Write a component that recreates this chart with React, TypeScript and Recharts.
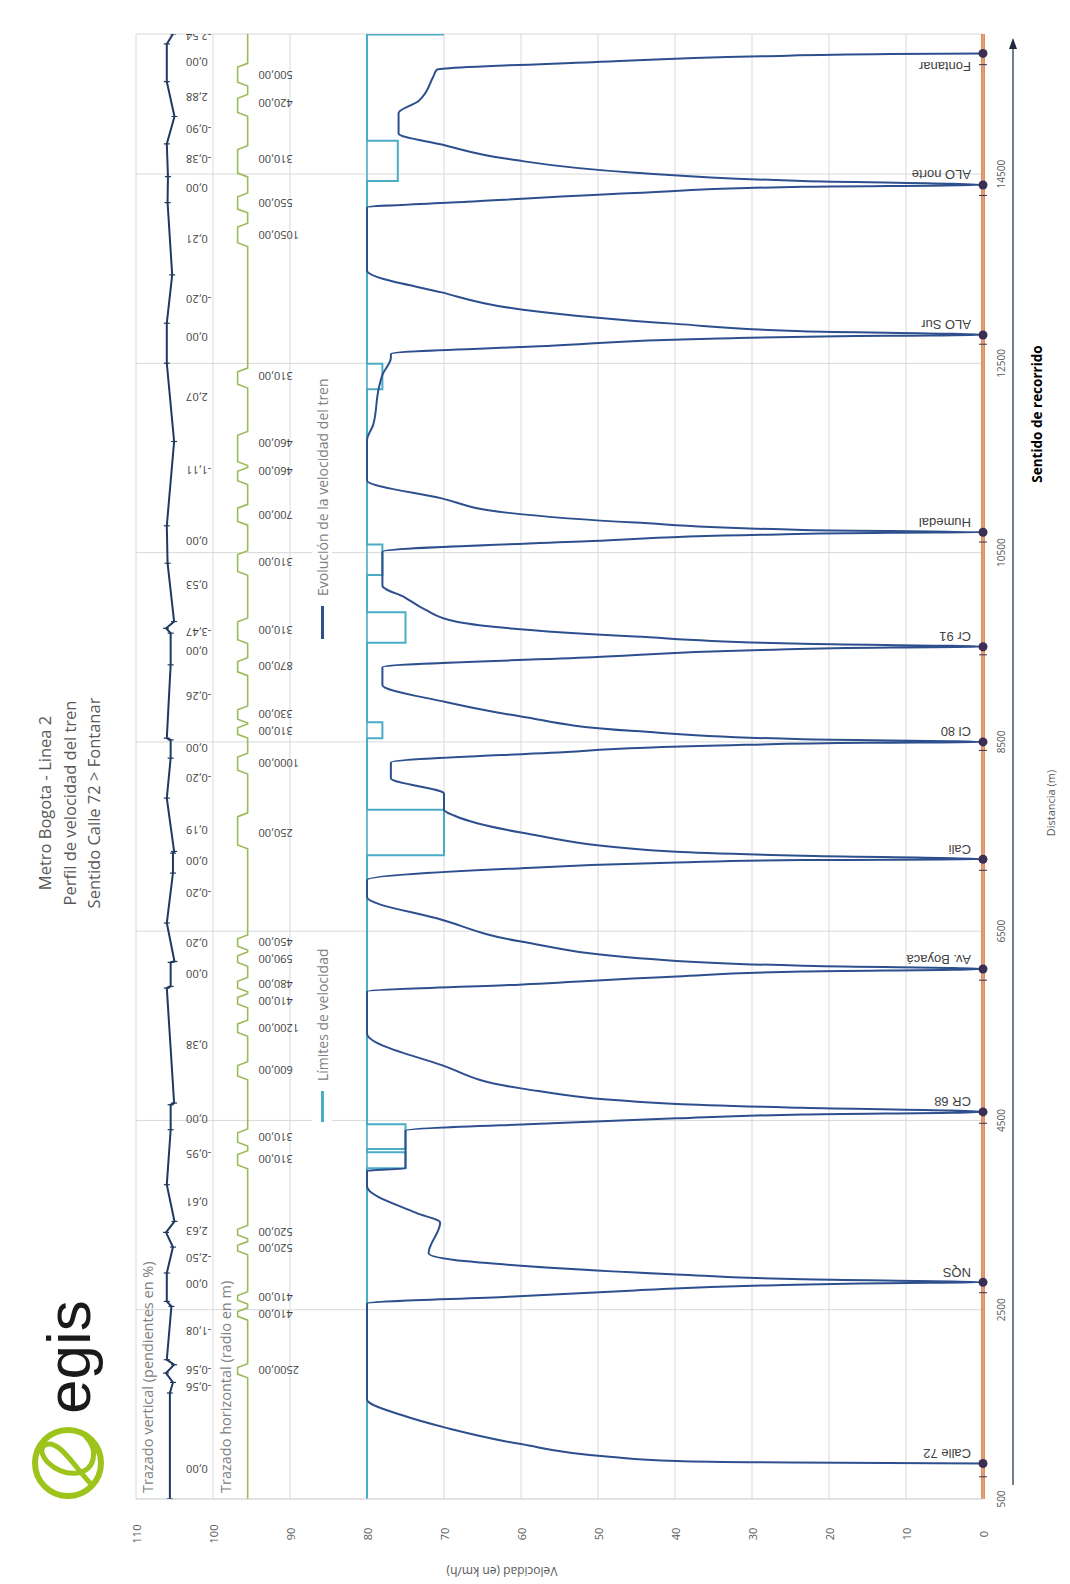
import React from "react";
import {
  ComposedChart,
  Line,
  Scatter,
  XAxis,
  YAxis,
  CartesianGrid,
  Legend,
} from "recharts";

// The chart is drawn in landscape and the whole block is turned a quarter turn
const W = 1584;
const H = 1070;
const FONT = "'Open Sans', 'Noto Sans', sans-serif";

const SPEED_COLOR = "#2D4F8E";
const LIMIT_COLOR = "#4BACC6";
const GRADE_COLOR = "#1F3A60";
const RADIUS_COLOR = "#9BBB59";
const TRACK_COLOR = "#E2661A";
const STATION_COLOR = "#3B3054";
const GRID = "#D9D9D9";

const DIST_TICKS = [500, 2500, 4500, 6500, 8500, 10500, 12500, 14500];
const SPEED_TICKS = [0, 10, 20, 30, 40, 50, 60, 70, 80, 90, 100, 110];
const DIST_MAX = 15980;
const LINE_SPEED = 80;

const STATIONS = [
  "Calle 72", "NQS", "CR 68", "Av. Boyacá", "Cali", "Cl 80",
  "Cr 91", "Humedal", "ALO Sur", "ALO norte", "Fontanar",
];
const STATION_DIST = [875, 2790, 4590, 6100, 7260, 8500, 9505, 10715, 12800, 14385, 15775];
const STATION_MARKS = [735, 2680, 4470, 5982, 7143, 8410, 9420, 10612, 12702, 14274, 15656];

// distance (m), speed (km/h)
const SPEED_PROFILE = [
  [875, 0], [885, 25], [901, 39.8], [947, 48.5], [1080, 60], [1254, 69.8], [1387, 75.5], [1551, 80],
  [2565, 80], [2637, 61.6], [2704, 45.2], [2755, 28.8], [2780, 12.5], [2790, 0],
  [2821, 23.4], [2873, 39.8], [2965, 60], [3011, 67], [3098, 72], [3420, 70.5], [3523, 73.6], [3805, 80],
  [3968, 80], [3994, 75], [4393, 75], [4470, 56], [4522, 39.8], [4563, 23.4], [4590, 0],
  [4634, 23.4], [4675, 39.8], [4839, 60], [5085, 70.3], [5418, 80],
  [5863, 80], [5930, 61.6], [6022, 39.8], [6073, 23.4], [6100, 0],
  [6135, 23.4], [6186, 39.8], [6391, 60], [6621, 70.3], [6860, 80],
  [7041, 80], [7159, 61.6], [7225, 39.8], [7252, 23.4], [7260, 0],
  [7297, 23.4], [7338, 39.8], [7543, 60], [7722, 68.7], [7784, 70], [7953, 70], [8116, 76.9],
  [8282, 76.9], [8385, 56.1], [8462, 34.3], [8490, 15], [8500, 0],
  [8528, 23.4], [8615, 45.2], [8769, 60], [8922, 69.8], [9102, 78],
  [9290, 78], [9394, 50.7], [9470, 28.8], [9498, 12], [9505, 0],
  [9537, 23.4], [9614, 45.2], [9767, 68.2], [9900, 72.5], [10023, 75], [10152, 78],
  [10510, 78], [10623, 50.7], [10689, 28.8], [10710, 12], [10715, 0],
  [10740, 23.4], [10817, 45.2], [10920, 61.6], [11073, 70.3], [11263, 80],
  [11688, 80], [11850, 79.2], [12225, 78.5], [12379, 78], [12558, 76.9], [12600, 76.9],
  [12686, 56.1], [12763, 34.3], [12792, 12], [12800, 0],
  [12840, 23.4], [12917, 39.8], [13070, 60], [13250, 70.3], [13480, 80],
  [14146, 80], [14207, 67], [14299, 45.2], [14366, 23.4], [14385, 0],
  [14428, 23.4], [14515, 45.2], [14658, 61.6], [14812, 70.3], [14929, 75.9],
  [15144, 75.9], [15272, 73.3], [15528, 71.4], [15605, 70.9], [15615, 69.8],
  [15682, 50.7], [15744, 28.8], [15768, 12], [15775, 0],
];

const SPEED_LIMIT = [
  [500, 80], [3994, 80], [3994, 75], [4163, 75], [4163, 80], [4199, 80], [4199, 75], [4460, 75], [4460, 80],
  [7302, 80], [7302, 70], [7784, 70], [7784, 80],
  [8538, 80], [8538, 78], [8707, 78], [8707, 80],
  [9547, 80], [9547, 75], [9870, 75], [9870, 80],
  [10264, 80], [10264, 78], [10587, 78], [10587, 80],
  [12225, 80], [12225, 78], [12497, 78], [12497, 80],
  [14428, 80], [14428, 76], [14853, 76], [14853, 80],
  [15975, 80], [15975, 70],
];

// vertical alignment drawn as a stylised profile near the top of the chart
const GRADE_PROFILE = [
  [500, 105.6], [1620, 105.6], [1732, 105.2], [1831, 106.1], [1919, 105.05], [1972, 106.0],
  [2535, 105.4], [2588, 106.0], [2888, 106.0], [3162, 105.2], [3317, 106.1], [3433, 105.0],
  [3821, 106.0], [4402, 105.5], [4666, 105.5], [4684, 105.05], [5899, 106.0], [5916, 105.5],
  [6170, 105.5], [6180, 105.0], [6586, 106.0], [7114, 105.2], [7325, 105.2], [7343, 105.05],
  [7906, 106.0], [8328, 105.5], [8521, 105.5], [8539, 106.0], [9314, 105.5], [9649, 105.5],
  [9701, 106.1], [9772, 105.05], [10388, 105.9], [10783, 106.0], [11674, 105.05], [12501, 106.0],
  [12924, 106.0], [13435, 105.3], [14199, 105.9], [14474, 105.85], [14819, 106.0], [15108, 105.0],
  [15477, 106.0], [15875, 106.0], [15980, 105.2],
];
const GRADE_LABELS: [number, string][] = [
  [808, "0,00"], [1683, "-0,56"], [1854, "-0,56"], [2271, "-1,08"], [2762, "0,00"], [3039, "-2,50"],
  [3327, "2,63"], [3637, "0,61"], [4139, "-0,95"], [4513, "0,00"], [5292, "0,38"], [6039, "0,00"],
  [6370, "0,20"], [6893, "-0,20"], [7235, "0,00"], [7566, "0,19"], [8110, "-0,20"], [8430, "0,00"],
  [8975, "-0,26"], [9455, "0,00"], [9658, "-3,47"], [10149, "0,53"], [10619, "0,00"], [11366, "-1,11"],
  [12135, "2,07"], [12775, "0,00"], [13170, "-0,20"], [13811, "0,21"], [14344, "0,00"], [14654, "-0,38"],
  [14974, "-0,90"], [15305, "2,88"], [15678, "0,00"], [15950, "-2,54"],
];

// horizontal alignment: curve start / end (m)
const RADIUS_BASE = 95.5;
const RADIUS_CURVE = 96.8;
const SPIRAL = 40;
const CURVES = [
  [1780, 1930], [2390, 2520], [2560, 2690], [3080, 3220], [3250, 3390], [3990, 4180], [4230, 4410],
  [4930, 5120], [5390, 5560], [5690, 5840], [5860, 6010], [6130, 6280], [6300, 6460], [7370, 7750],
  [8160, 8380], [8540, 8690], [8700, 8880], [9200, 9390], [9540, 9810], [10260, 10520], [10790, 11010],
  [11220, 11400], [11420, 11780], [12240, 12450], [13735, 13980], [14090, 14300], [14470, 14800],
  [15110, 15340], [15430, 15670],
];
const RADIUS_LABELS: [number, string][] = [
  [1855, "2500,00"], [2453, "410,00"], [2624, "410,00"], [3147, "520,00"], [3317, "520,00"],
  [4086, "310,00"], [4321, "310,00"], [5025, "600,00"], [5474, "1200,00"], [5762, "410,00"],
  [5933, "480,00"], [6200, "590,00"], [6381, "450,00"], [7534, "250,00"], [8270, "1000,00"],
  [8612, "310,00"], [8793, "330,00"], [9295, "870,00"], [9679, "310,00"], [10394, "310,00"],
  [10896, "700,00"], [11355, "460,00"], [11654, "460,00"], [12358, "310,00"], [13853, "1050,00"],
  [14184, "550,00"], [14653, "310,00"], [15241, "420,00"], [15540, "500,00"],
];
const GRADE_LABEL_V = 103.5;
const RADIUS_LABEL_V = 94.1;

const toPts = (arr: number[][]) => arr.map(([d, v]) => ({ d, v }));

const speedData = toPts(SPEED_PROFILE);
const limitData = toPts(SPEED_LIMIT);
const gradeData = toPts(GRADE_PROFILE);
const trackData = [{ d: 500, v: 0 }, { d: DIST_MAX, v: 0 }];
const lineSpeedData = [{ d: 500, v: LINE_SPEED }, { d: 15975, v: LINE_SPEED }];

const radiusData = (() => {
  const pts = [{ d: 500, v: RADIUS_BASE }];
  CURVES.forEach(([s, e]) => {
    pts.push(
      { d: s, v: RADIUS_BASE },
      { d: s + SPIRAL, v: RADIUS_CURVE },
      { d: e - SPIRAL, v: RADIUS_CURVE },
      { d: e, v: RADIUS_BASE }
    );
  });
  pts.push({ d: DIST_MAX, v: RADIUS_BASE });
  return pts;
})();

const stationData = STATIONS.map((name, i) => ({ d: STATION_DIST[i], v: 0, name, last: i === STATIONS.length - 1 }));
const markData = STATION_MARKS.map((d) => ({ d, v: 0 }));
const gradeLabelData = GRADE_LABELS.map(([d, t]) => ({ d, v: GRADE_LABEL_V, t }));
const radiusLabelData = RADIUS_LABELS.map(([d, t]) => ({ d, v: RADIUS_LABEL_V, t }));

// eslint-disable-next-line @typescript-eslint/no-explicit-any
const VertLabel = (p: any) => (
  <text
    x={p.cx}
    y={p.cy}
    transform={`rotate(-90 ${p.cx} ${p.cy})`}
    textAnchor="end"
    dominantBaseline="central"
    fontSize={11}
    fontFamily={FONT}
    fill="#404040"
  >
    {p.payload.t}
  </text>
);

// eslint-disable-next-line @typescript-eslint/no-explicit-any
const StationMark = (p: any) => {
  const lx = p.payload.last ? p.cx - 13 : p.cx + 10;
  const ly = p.cy - 12;
  return (
    <g>
      <circle cx={p.cx} cy={p.cy} r={4.5} fill={STATION_COLOR} />
      <text
        x={lx}
        y={ly}
        transform={`rotate(-90 ${lx} ${ly})`}
        textAnchor="start"
        dominantBaseline="central"
        fontSize={13}
        fontFamily="'Liberation Sans', Arial, sans-serif"
        fill="#404040"
      >
        {p.payload.name}
      </text>
    </g>
  );
};

// eslint-disable-next-line @typescript-eslint/no-explicit-any
const SmallTick = (p: any) => (
  <line x1={p.cx} x2={p.cx} y1={p.cy - 4} y2={p.cy + 4} stroke={STATION_COLOR} strokeWidth={1} />
);

// eslint-disable-next-line @typescript-eslint/no-explicit-any
const GradeDot = (p: any) => (
  <line key={p.index} x1={p.cx} x2={p.cx} y1={p.cy - 3} y2={p.cy + 3} stroke={GRADE_COLOR} strokeWidth={1.2} />
);

function LegendContent() {
  const item = { position: "absolute" as const, top: 0, height: 20, display: "flex", alignItems: "center", background: "#fff", padding: "0 6px", whiteSpace: "nowrap" as const };
  return (
    <div style={{ position: "relative", width: 800, height: 20, fontFamily: FONT, fontSize: 14, color: "#7F7F7F" }}>
      <div style={{ ...item, left: 16 }}>
        <span style={{ display: "inline-block", width: 31, height: 3, background: LIMIT_COLOR, marginRight: 10 }} />
        Límites de velocidad
      </div>
      <div style={{ ...item, left: 499 }}>
        <span style={{ display: "inline-block", width: 33, height: 3, background: SPEED_COLOR, marginRight: 10 }} />
        Evolución de la velocidad del tren
      </div>
    </div>
  );
}

function Overlay() {
  return (
    <svg width={W} height={H} style={{ position: "absolute", left: 0, top: 0, pointerEvents: "none" }}>
      {/* logo */}
      <circle cx={121} cy={68} r={33} fill="none" stroke="#9DC41A" strokeWidth={6} />
      <path d="M101 90 C118 74 146 58 139 45 C132 34 108 54 111 77 C113 95 134 99 147 86" fill="none" stroke="#9DC41A" strokeWidth={5} strokeLinecap="round" />
      <text x={170} y={90} fontSize={62} fontFamily="'Liberation Sans', Arial, sans-serif" fill="#1a1a1a">egis</text>

      <g fontFamily={FONT} fill="#595959" fontSize={16.5} textAnchor="middle">
        <text x={781} y={51}>Metro Bogota - Linea 2</text>
        <text x={781} y={76}>Perfil de velocidad del tren</text>
        <text x={781} y={100}>Sentido Calle 72 &gt; Fontanar</text>
      </g>

      <g fontFamily={FONT} fill="#808080" fontSize={14.5}>
        <text x={91} y={153}>Trazado vertical (pendientes en %)</text>
        <text x={91} y={231}>Trazado horizontal (radio en m)</text>
      </g>

      <text x={13} y={502} transform="rotate(-90 13 502)" textAnchor="middle" dominantBaseline="central" fontFamily={FONT} fontSize={12} fill="#595959">
        Velocidad (en km/h)
      </text>

      <line x1={99} x2={1536} y1={1013} y2={1013} stroke="#44546A" strokeWidth={1.5} />
      <polygon points="1546,1013 1535,1009 1535,1017" fill="#1F2A3A" />
      <text x={1170} y={1037} textAnchor="middle" dominantBaseline="central" fontFamily={FONT} fontWeight={700} fontSize={13.5} fill="#000">
        Sentido de recorrido
      </text>
      <text x={781} y={1050} textAnchor="middle" dominantBaseline="central" fontFamily={FONT} fontSize={11} fill="#595959">
        Distancia (m)
      </text>
    </svg>
  );
}

function SpeedChart() {
  return (
    <div style={{ position: "relative", width: W, height: H, background: "#fff" }}>
      <ComposedChart width={W} height={H} margin={{ top: 136, right: 34, bottom: 0, left: 0 }}>
        <CartesianGrid stroke={GRID} />
        <XAxis
          type="number"
          dataKey="d"
          domain={[500, DIST_MAX]}
          ticks={DIST_TICKS}
          allowDataOverflow
          height={87}
          axisLine={{ stroke: GRID }}
          tickLine={false}
          tickSize={0}
          tickMargin={0}
          // eslint-disable-next-line @typescript-eslint/no-explicit-any
          tick={(p: any) => (
            <text x={p.x} y={p.y + 18} textAnchor="middle" dominantBaseline="central" fontSize={10} fontFamily={FONT} fill="#595959">
              {p.payload.value}
            </text>
          )}
        />
        <YAxis
          type="number"
          domain={[0, 110]}
          ticks={SPEED_TICKS}
          width={85}
          axisLine={{ stroke: GRID }}
          tickLine={false}
          tickSize={0}
          tickMargin={0}
          // eslint-disable-next-line @typescript-eslint/no-explicit-any
          tick={(p: any) => (
            <text x={p.x - 35} y={p.y} textAnchor="middle" dominantBaseline="central" fontSize={11} fontFamily={FONT} fill="#595959">
              {p.payload.value}
            </text>
          )}
        />
        <Legend
          layout="horizontal"
          verticalAlign="middle"
          align="center"
          wrapperStyle={{ top: 312, left: 440, width: 800, height: 20 }}
          content={() => <LegendContent />}
        />
        <Line data={trackData} dataKey="v" stroke={TRACK_COLOR} strokeWidth={3.5} dot={false} isAnimationActive={false} />
        <Line data={radiusData} dataKey="v" stroke={RADIUS_COLOR} strokeWidth={1.6} dot={false} isAnimationActive={false} />
        <Line data={gradeData} dataKey="v" stroke={GRADE_COLOR} strokeWidth={2} dot={GradeDot} isAnimationActive={false} />
        <Line data={lineSpeedData} dataKey="v" stroke={LIMIT_COLOR} strokeWidth={1.5} dot={false} isAnimationActive={false} />
        <Line data={limitData} dataKey="v" stroke={LIMIT_COLOR} strokeWidth={2} dot={false} isAnimationActive={false} />
        <Line data={speedData} dataKey="v" type="monotone" stroke={SPEED_COLOR} strokeWidth={2} dot={false} isAnimationActive={false} />
        <Scatter data={markData} dataKey="v" shape={SmallTick} isAnimationActive={false} />
        <Scatter data={stationData} dataKey="v" shape={StationMark} isAnimationActive={false} />
        <Scatter data={gradeLabelData} dataKey="v" shape={VertLabel} isAnimationActive={false} />
        <Scatter data={radiusLabelData} dataKey="v" shape={VertLabel} isAnimationActive={false} />
      </ComposedChart>
      <Overlay />
    </div>
  );
}

export default function App() {
  return (
    <div style={{ position: "absolute", left: 0, top: 0, width: 1070, height: 1584, overflow: "hidden", background: "#fff" }}>
      <div
        style={{
          position: "absolute",
          left: 0,
          top: 0,
          width: W,
          height: H,
          transformOrigin: "0 0",
          transform: `translate(0px, ${W}px) rotate(-90deg)`,
        }}
      >
        <SpeedChart />
      </div>
    </div>
  );
}
